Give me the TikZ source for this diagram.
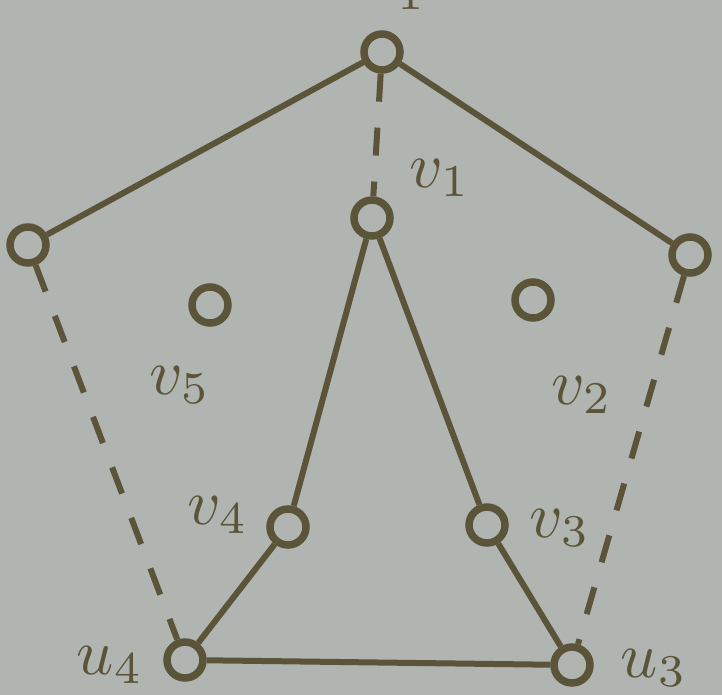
\documentclass[tikz,border=0pt]{standalone}
\definecolor{bg}{RGB}{176,181,178}
\definecolor{ink}{RGB}{92,84,56}
\begin{document}
\begin{tikzpicture}[x=1pt,y=-1pt,
  vtx/.style={circle,draw=ink,line width=7.5pt,minimum size=36pt,inner sep=0pt,fill=bg},
  solidedge/.style={draw=ink,line width=6pt},
  dashedge/.style={draw=ink,line width=6pt,dash pattern=on 28pt off 26pt},
  lab/.style={text=ink,inner sep=0pt}]
\fill[bg] (0,0) rectangle (722,695);
\useasboundingbox (0,0) rectangle (722,695);
% vertices
\node[vtx] (u1) at (382,52) {};
\node[vtx] (u2) at (690,255) {};
\node[vtx] (u3) at (572,665) {};
\node[vtx] (u4) at (185,660) {};
\node[vtx] (u5) at (28,245) {};
\node[vtx] (v1) at (372,218) {};
\node[vtx] (v2) at (533,300) {};
\node[vtx] (v3) at (487,525) {};
\node[vtx] (v4) at (288,527) {};
\node[vtx] (v5) at (210,305) {};
% edges
\path[solidedge] (u1) -- (u5);
\path[solidedge] (u1) -- (u2);
\path[solidedge] (u4) -- (u3);
\path[solidedge] (v1) -- (v4);
\path[solidedge] (v4) -- (u4);
\path[solidedge] (v1) -- (v3);
\path[solidedge] (v3) -- (u3);
\path[dashedge] (u1) -- (v1);
\path[dashedge] (u5) -- (u4);
\path[dashedge] (u2) -- (u3);
% labels
\node[lab,anchor=base west] (lu1) at (360,0) {\scalebox{6.5}{$u_1$}};
\node[lab] (lv1) at (440,178) {\scalebox{6.5}{$v_1$}};
\node[lab] (lv5) at (180,385) {\scalebox{6.5}{$v_5$}};
\node[lab] (lv2) at (582,395) {\scalebox{6.5}{$v_2$}};
\node[lab] (lv4) at (218,515) {\scalebox{6.5}{$v_4$}};
\node[lab] (lv3) at (560,528) {\scalebox{6.5}{$v_3$}};
\node[lab] (lu4) at (110,665) {\scalebox{6.5}{$u_4$}};
\node[lab] (lu3) at (654,668) {\scalebox{6.5}{$u_3$}};
\end{tikzpicture}
\end{document}
